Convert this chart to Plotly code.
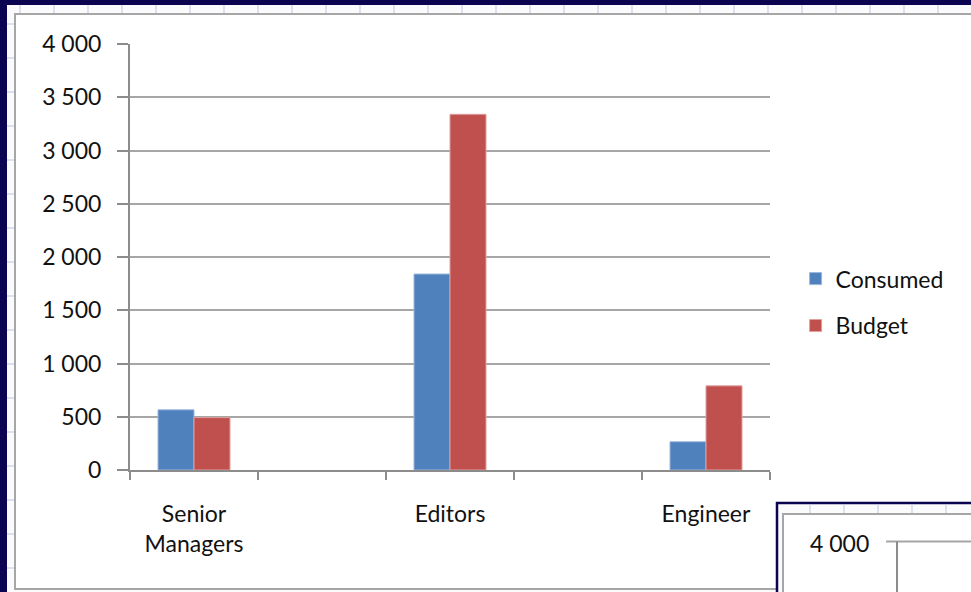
import plotly.graph_objects as go

categories = ["Senior<br>Managers", " ", "Editors", "  ", "Engineer"]
consumed = [565, None, 1840, None, 265]
budget = [492, None, 3340, None, 790]
y_ticks = [0, 500, 1000, 1500, 2000, 2500, 3000, 3500, 4000]

W, H = 971, 592
L, R, T, B = 130, 770, 44, 470
NAVY = "#0b0450"
FONT = "Lato"
TXT = "#111111"


def px(x):
    return (x - L) / (R - L)


def py(y):
    return (B - y) / (B - T)


fig = go.Figure()
fig.add_trace(go.Bar(name="Consumed", x=categories, y=consumed,
                     marker=dict(color="#4F81BD", line=dict(color="#9bb7dd", width=1)),
                     legendgroup="a"))
fig.add_trace(go.Bar(name="Budget", x=categories, y=budget,
                     marker=dict(color="#C0504D", line=dict(color="#e0a09e", width=1)),
                     legendgroup="b"))

shapes = []
# light spreadsheet gap inside navy frame
shapes.append(dict(type="rect", xref="paper", yref="paper", layer="below",
                   x0=px(7), x1=px(975), y0=py(596), y1=py(5),
                   fillcolor="#fbfbfe", line=dict(width=0)))
# faint cell lines in gap
for cx in range(20, 975, 34):
    shapes.append(dict(type="line", xref="paper", yref="paper", layer="below",
                       x0=px(cx), x1=px(cx), y0=py(14), y1=py(5),
                       line=dict(color="#d3d9ea", width=1.5)))
for cy in range(24, 592, 34):
    shapes.append(dict(type="line", xref="paper", yref="paper", layer="below",
                       x0=px(7), x1=px(15), y0=py(cy), y1=py(cy),
                       line=dict(color="#d3d9ea", width=1.5)))
# main chart area
shapes.append(dict(type="rect", xref="paper", yref="paper", layer="below",
                   x0=px(15), x1=px(980), y0=py(589), y1=py(14),
                   fillcolor="white", line=dict(color="#a6a6a6", width=2)))
# second chart fragment (above)
shapes.append(dict(type="rect", xref="paper", yref="paper", layer="above",
                   x0=px(777), x1=px(990), y0=py(600), y1=py(503),
                   fillcolor="#fbfbfe", line=dict(color=NAVY, width=2.5)))
for cx in range(810, 975, 34):
    shapes.append(dict(type="line", xref="paper", yref="paper", layer="above",
                       x0=px(cx), x1=px(cx), y0=py(513), y1=py(505),
                       line=dict(color="#d3d9ea", width=1.5)))
shapes.append(dict(type="rect", xref="paper", yref="paper", layer="above",
                   x0=px(783), x1=px(990), y0=py(600), y1=py(514),
                   fillcolor="white", line=dict(color="#a6a6a6", width=2)))
shapes.append(dict(type="line", xref="paper", yref="paper", layer="above",
                   x0=px(886), x1=px(990), y0=py(541.5), y1=py(541.5),
                   line=dict(color="#a6a6a6", width=2)))
shapes.append(dict(type="line", xref="paper", yref="paper", layer="above",
                   x0=px(897), x1=px(897), y0=py(541.5), y1=py(600),
                   line=dict(color="#8c8c8c", width=2)))

annotations = [dict(xref="paper", yref="paper", x=px(871), y=py(543),
                    xanchor="right", yanchor="middle", showarrow=False,
                    text="4 000", font=dict(family=FONT, size=23, color=TXT))]

fig.update_layout(
    width=W, height=H,
    margin=dict(l=L, r=W - R, t=T, b=H - B, pad=0),
    paper_bgcolor=NAVY,
    plot_bgcolor="rgba(0,0,0,0)",
    separators=". ",
    barmode="group",
    bargap=0.4375,
    bargroupgap=0,
    font=dict(family=FONT, size=23, color=TXT),
    showlegend=True,
    legend=dict(x=1.04, y=0.394, xanchor="left", yanchor="middle",
                bgcolor="rgba(0,0,0,0)", font=dict(family=FONT, size=23, color=TXT),
                traceorder="grouped", tracegroupgap=14, itemwidth=30),
    xaxis=dict(type="category", tickson="boundaries", ticks="outside", ticklen=8,
               tickwidth=2, tickcolor="#8c8c8c", showline=True, linecolor="#8c8c8c",
               linewidth=2, showgrid=False, ticklabelstandoff=22,
               tickfont=dict(family=FONT, size=23, color=TXT)),
    yaxis=dict(range=[0, 4000], tickvals=y_ticks, tickformat=",d", ticks="outside",
               ticklen=11, tickwidth=2, tickcolor="#8c8c8c", showline=True,
               linecolor="#8c8c8c", linewidth=2, showgrid=True, gridcolor="#a6a6a6",
               gridwidth=2, zeroline=False, ticklabelstandoff=11,
               tickfont=dict(family=FONT, size=23, color=TXT)),
    shapes=shapes,
    annotations=annotations,
)

fig.write_html("out.html")
